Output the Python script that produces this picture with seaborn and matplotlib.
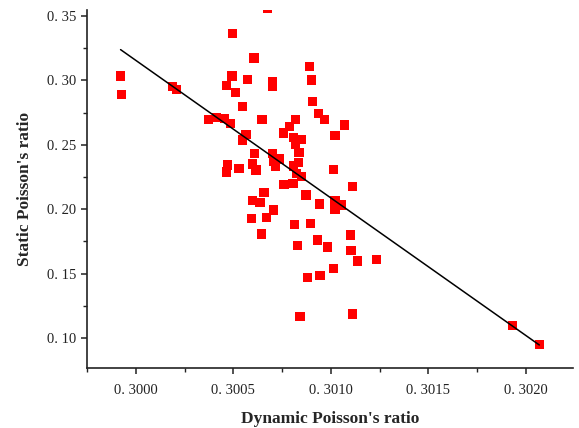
import matplotlib
matplotlib.use("Agg")
import matplotlib.pyplot as plt
from matplotlib.ticker import MultipleLocator, FuncFormatter
import seaborn as sns
import pandas as pd

dynamic_pr = [
    0.299921, 0.299927, 0.300186, 0.300209, 0.300371, 0.300414, 0.300454, 0.300486,
    0.300464, 0.300493, 0.300497, 0.300510, 0.300546, 0.300572, 0.300606, 0.300565,
    0.300548, 0.300608, 0.300469, 0.300466, 0.300529, 0.300599, 0.300616, 0.300647,
    0.300674, 0.300699, 0.300699, 0.300890, 0.300900, 0.300905, 0.300936, 0.300969,
    0.301070, 0.301021, 0.300817, 0.300786, 0.300759, 0.300808, 0.300847, 0.300820,
    0.300837, 0.300700, 0.300734, 0.300709, 0.300834, 0.300808, 0.300715, 0.301013,
    0.300825, 0.300851, 0.301111, 0.300760, 0.300806, 0.300873, 0.300940, 0.301022,
    0.301056, 0.301022, 0.300657, 0.300599, 0.300637, 0.300705, 0.300591, 0.300671,
    0.300645, 0.300813, 0.300897, 0.301103, 0.300831, 0.300933, 0.300981, 0.301104,
    0.301135, 0.301234, 0.301015, 0.300880, 0.300945, 0.300842, 0.301113, 0.301931,
    0.302070,
]
static_pr = [
    0.3034, 0.2892, 0.2951, 0.2931, 0.2693, 0.2714, 0.2703, 0.2662,
    0.2957, 0.3034, 0.3366, 0.2905, 0.2799, 0.3009, 0.3174, 0.2578,
    0.2537, 0.2434, 0.2343, 0.2289, 0.2316, 0.2351, 0.2304, 0.2693,
    0.3560, 0.2990, 0.2953, 0.3106, 0.3003, 0.2835, 0.2745, 0.2693,
    0.2654, 0.2571, 0.2693, 0.2641, 0.2592, 0.2555, 0.2543, 0.2506,
    0.2442, 0.2434, 0.2390, 0.2372, 0.2361, 0.2335, 0.2330, 0.2308,
    0.2279, 0.2252, 0.2175, 0.2193, 0.2201, 0.2110, 0.2040, 0.2069,
    0.2033, 0.1999, 0.2131, 0.2068, 0.2052, 0.1994, 0.1929, 0.1937,
    0.1807, 0.1883, 0.1891, 0.1800, 0.1720, 0.1761, 0.1707, 0.1678,
    0.1598, 0.1608, 0.1538, 0.1468, 0.1487, 0.1165, 0.1186, 0.1096,
    0.0951,
]
x_ticks = [0.3000, 0.3005, 0.3010, 0.3015, 0.3020]
y_ticks = [0.10, 0.15, 0.20, 0.25, 0.30, 0.35]

df = pd.DataFrame({"dyn": dynamic_pr, "stat": static_pr})

sns.set_theme(style="ticks")
plt.rcParams["font.family"] = ["Liberation Serif", "DejaVu Serif"]

fig = plt.figure(figsize=(5.79, 4.28), dpi=100)
ax = fig.add_axes([0.150, 0.140, 0.840, 0.837])

sns.regplot(data=df, x="dyn", y="stat", ax=ax, ci=None, truncate=True,
            marker="s",
            scatter_kws=dict(s=44, color="#ff0000", alpha=1.0, edgecolor="none",
                             linewidths=0, zorder=2),
            line_kws=dict(color="black", linewidth=1.1, zorder=3))

ax.set_xlim(0.299748, 0.302244)
ax.set_ylim(0.0767, 0.3547)
ax.set_xticks(x_ticks)
ax.set_yticks(y_ticks)
ax.xaxis.set_minor_locator(MultipleLocator(0.00025))
ax.yaxis.set_minor_locator(MultipleLocator(0.025))
ax.xaxis.set_major_formatter(FuncFormatter(lambda v, p: f"{v:.4f}".replace(".", ". ")))
ax.yaxis.set_major_formatter(FuncFormatter(lambda v, p: f"{v:.2f}".replace(".", ". ")))

ax.tick_params(axis="both", which="major", direction="out", length=4.5, width=1.1,
               labelsize=10.5, colors="#222222", labelcolor="#222222", pad=3)
ax.tick_params(axis="both", which="minor", direction="out", length=3, width=1.0, colors="#222222")
ax.xaxis.set_tick_params(pad=7)

for side in ["top", "right"]:
    ax.spines[side].set_visible(False)
for side in ["left", "bottom"]:
    ax.spines[side].set_linewidth(1.2)
    ax.spines[side].set_color("#222222")

ax.set_xlabel("Dynamic Poisson's ratio", fontsize=12.5, fontweight="bold", labelpad=10)
ax.set_ylabel("Static Poisson's ratio", fontsize=12.5, fontweight="bold", labelpad=10)

fig.savefig("out.png", dpi=100)
